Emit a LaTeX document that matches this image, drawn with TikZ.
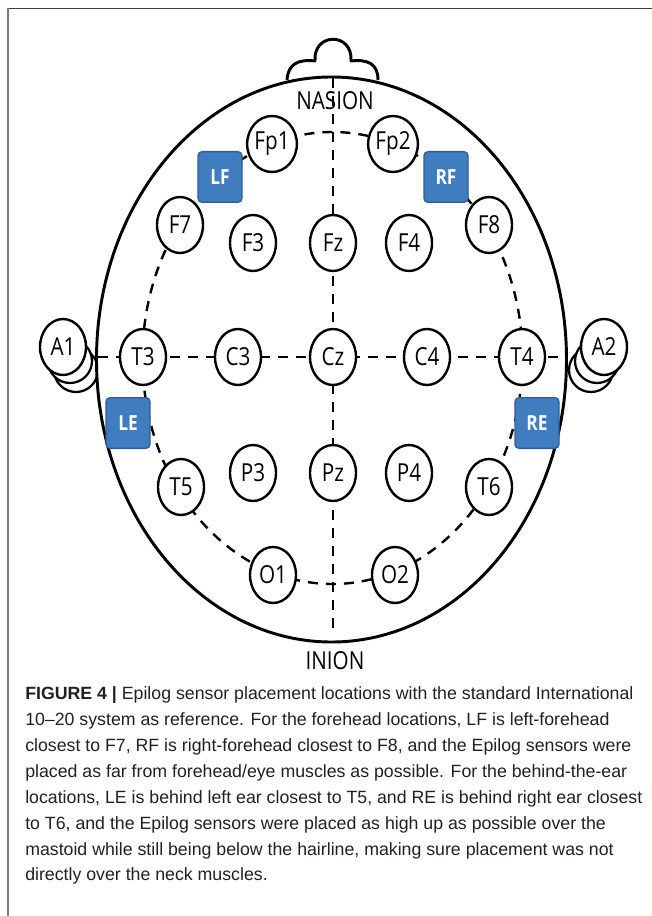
\documentclass[tikz,border=0pt]{standalone}
\usepackage{fontspec}
\setmainfont{Liberation Sans}
\newfontfamily\labelfont{Open Sans}
\usetikzlibrary{shapes.geometric}
\definecolor{sensorblue}{RGB}{64,124,192}
\definecolor{sensorborder}{RGB}{46,94,150}
\definecolor{framegray}{RGB}{120,120,120}
\definecolor{captiontext}{RGB}{35,31,32}
% electrode labels are set slightly taller than wide
\newcommand{\tallt}[1]{\scalebox{1}[1.2]{#1}}

\begin{document}
\begin{tikzpicture}[x=0.75pt,y=-0.75pt,
  headline/.style={line width=2.2pt, black},
  earline/.style={line width=1.7pt, black, fill=white},
  electrode/.style={ellipse, draw, fill=white, line width=1.8pt,
    minimum width=34.5pt, minimum height=42pt, inner sep=0pt,
    font=\labelfont\fontsize{15.5}{16}\selectfont},
  sensor/.style={rectangle, rounded corners=3pt, draw=sensorborder,
    fill=sensorblue, line width=1pt, minimum width=33pt, minimum height=38pt,
    inner sep=0pt, text=white, font=\labelfont\bfseries\fontsize{13}{14}\selectfont},
  guide/.style={line width=1.8pt, dash pattern=on 7.5pt off 6pt},
  landmark/.style={font=\labelfont\fontsize{15.5}{16}\selectfont, inner sep=0pt},
  captionline/.style={anchor=base west, inner sep=0pt, text=captiontext,
    font=\fontsize{13.3}{19.5}\selectfont}
]
\useasboundingbox (0,0) rectangle (652,916);

% frame
\draw[line width=1.2pt, black!75] (7,8.5) -- (652,8.5);
\draw[line width=1.5pt, framegray] (7.5,8) -- (7.5,916);

% ear lobes behind the head outline
\draw[earline] (76,370) circle [radius=22];
\draw[earline] (70,361) circle [radius=22];
\draw[earline] (591,370) circle [radius=22];
\draw[earline] (597,361) circle [radius=22];

% nose
\draw[headline, line join=round]
  (287,80) .. controls (288,64) and (298,59) .. (315,61)
  .. controls (313,32) and (353,32) .. (351,61)
  .. controls (368,59) and (378,64) .. (378,80);

% head outline
\draw[headline, fill=white] (331.5,359.5) ellipse [x radius=235, y radius=282.5];

% midline and ear-to-ear line
\coordinate (nasionpt) at (333,78);
\coordinate (inionpt) at (333,632);
\coordinate (leftpt) at (98,357);
\coordinate (rightpt) at (565,357);
\draw[guide] (nasionpt) -- (inionpt);
\draw[guide] (leftpt) -- (rightpt);

% circumferential line through the outer electrodes
\draw[guide] (332.5,358) ellipse [x radius=190, y radius=226];

% electrodes
\node[electrode] (Fp1) at (272,144) {\tallt{Fp1}};
\node[electrode] (Fp2) at (393,144) {\tallt{Fp2}};
\node[electrode] (F7) at (180,225) {\tallt{F7}};
\node[electrode] (F3) at (253,243) {\tallt{F3}};
\node[electrode] (Fz) at (333,243) {\tallt{Fz}};
\node[electrode] (F4) at (409,243) {\tallt{F4}};
\node[electrode] (F8) at (489,225) {\tallt{F8}};
\node[electrode] (A1) at (63,347) {\tallt{A1}};
\node[electrode] (T3) at (143,357) {\tallt{T3}};
\node[electrode] (C3) at (238,357) {\tallt{C3}};
\node[electrode] (Cz) at (333,357) {\tallt{Cz}};
\node[electrode] (C4) at (427,357) {\tallt{C4}};
\node[electrode] (T4) at (522,357) {\tallt{T4}};
\node[electrode] (A2) at (604,347) {\tallt{A2}};
\node[electrode] (T5) at (181,487) {\tallt{T5}};
\node[electrode] (P3) at (253,473) {\tallt{P3}};
\node[electrode] (Pz) at (333,473) {\tallt{Pz}};
\node[electrode] (P4) at (409,473) {\tallt{P4}};
\node[electrode] (T6) at (489,487) {\tallt{T6}};
\node[electrode] (O1) at (273,575) {\tallt{O1}};
\node[electrode] (O2) at (395,575) {\tallt{O2}};

% sensor placements
\node[sensor] (LF) at (220,177) {\tallt{LF}};
\node[sensor] (RF) at (446,177) {\tallt{RF}};
\node[sensor] (LE) at (128,423) {\tallt{LE}};
\node[sensor] (RE) at (537,423) {\tallt{RE}};

% landmarks
\node[landmark] (nasion) at (335,101) {\tallt{NASION}};
\node[landmark] (inion) at (335,661) {\tallt{INION}};

% caption
\node[captionline] (cap1) at (25,699) {\textbf{FIGURE 4 |} Epilog sensor placement locations with the standard International};
\node[captionline] (cap2) at (25,725) {10–20 system as reference. For the forehead locations, LF is left-forehead};
\node[captionline] (cap3) at (25,751) {closest to F7, RF is right-forehead closest to F8, and the Epilog sensors were};
\node[captionline] (cap4) at (25,777) {placed as far from forehead/eye muscles as possible. For the behind-the-ear};
\node[captionline] (cap5) at (25,803) {locations, LE is behind left ear closest to T5, and RE is behind right ear closest};
\node[captionline] (cap6) at (25,829) {to T6, and the Epilog sensors were placed as high up as possible over the};
\node[captionline] (cap7) at (25,855) {mastoid while still being below the hairline, making sure placement was not};
\node[captionline] (cap8) at (25,880) {directly over the neck muscles.};
\end{tikzpicture}
\end{document}
